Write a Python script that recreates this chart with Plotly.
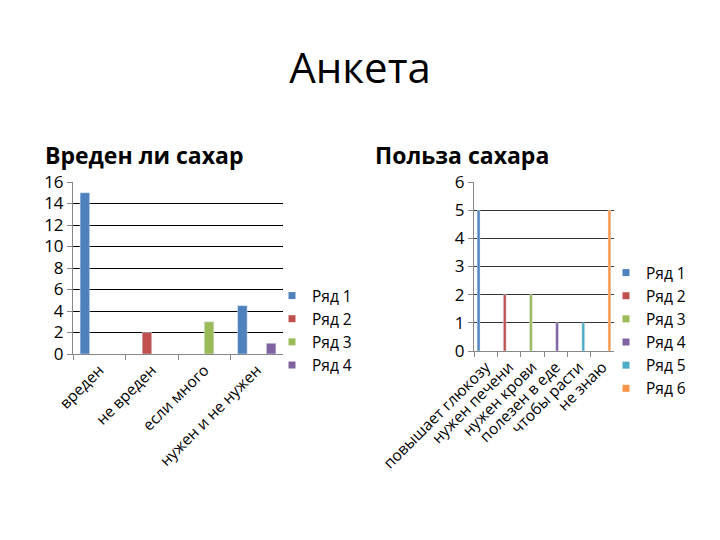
import plotly.graph_objects as go

title_text = "Анкета"
left_title = "Вреден ли сахар"
right_title = "Польза сахара"

left_cats = ["вреден", "не вреден", "если много", "нужен и не нужен"]
left_series = {
    "Ряд 1": [15, None, None, 4.5],
    "Ряд 2": [None, 2, None, None],
    "Ряд 3": [None, None, 3, None],
    "Ряд 4": [None, None, None, 1],
}

right_cats = ["повышает глюкозу", "нужен печени", "нужен крови", "полезен в еде", "чтобы расти", "не знаю"]
right_series = {
    "Ряд 1": [5, None, None, None, None, None],
    "Ряд 2": [None, 2, None, None, None, None],
    "Ряд 3": [None, None, 2, None, None, None],
    "Ряд 4": [None, None, None, 1, None, None],
    "Ряд 5": [None, None, None, None, 1, None],
    "Ряд 6": [None, None, None, None, None, 5],
}

colors = ["#4F81BD", "#C0504D", "#9BBB59", "#8064A2", "#4BACC6", "#F79646"]
FONT = "Open Sans"

fig = go.Figure()

for i, (name, vals) in enumerate(left_series.items()):
    fig.add_trace(go.Bar(x=left_cats, y=vals, name=name, marker_color=colors[i],
                         xaxis="x", yaxis="y", showlegend=False, offsetgroup=str(i)))
    fig.add_trace(go.Scatter(x=[None], y=[None], mode="markers", name=name,
                             marker=dict(symbol="square", size=7, color=colors[i]),
                             xaxis="x", yaxis="y", legend="legend"))

for i, (name, vals) in enumerate(right_series.items()):
    fig.add_trace(go.Bar(x=right_cats, y=vals, name=name, marker_color=colors[i],
                         xaxis="x2", yaxis="y2", showlegend=False, offsetgroup=str(i)))
    fig.add_trace(go.Scatter(x=[None], y=[None], mode="markers", name=name,
                             marker=dict(symbol="square", size=7, color=colors[i]),
                             xaxis="x2", yaxis="y2", legend="legend2"))

W, H = 720, 540
def px(x): return x / W
def py(y): return 1 - y / H

xaxis_common = dict(showline=True, linecolor="#888888", linewidth=1, automargin=False,
                    type="category", tickangle=-45, ticks="outside", tickson="boundaries",
                    ticklen=5, tickcolor="#888888", showgrid=False,
                    tickfont=dict(family=FONT, size=15.5, color="black"))
yaxis_common = dict(showline=True, linecolor="#888888", linewidth=1, automargin=False,
                    ticks="outside", ticklen=5, tickcolor="#888888", zeroline=False,
                    showgrid=True, gridwidth=1,
                    tickfont=dict(family=FONT, size=17, color="black"))

fig.update_layout(
    width=W, height=H,
    margin=dict(l=0, r=0, t=0, b=0, autoexpand=False),
    paper_bgcolor="white", plot_bgcolor="white",
    barmode="group", bargap=0.27, bargroupgap=0,
    font=dict(family=FONT, color="black"),
    title=dict(text=title_text, x=0.5, xanchor="center", y=py(68), yanchor="middle",
               font=dict(family=FONT, size=42, color="black")),
    xaxis=dict(domain=[px(73), px(283)], anchor="y", **xaxis_common),
    yaxis=dict(domain=[py(354), py(182)], anchor="x", range=[0, 16], dtick=2,
               gridcolor="black", **yaxis_common),
    xaxis2=dict(domain=[px(474), px(614)], anchor="y2", **xaxis_common),
    yaxis2=dict(domain=[py(351), py(182)], anchor="x2", range=[0, 6], dtick=1,
                gridcolor="#333333", **yaxis_common),
    legend=dict(x=px(272), y=py(279), xanchor="left", yanchor="top",
                font=dict(family=FONT, size=15.5, color="black"),
                bgcolor="rgba(0,0,0,0)", itemwidth=30, tracegroupgap=0),
    legend2=dict(x=px(606), y=py(256), xanchor="left", yanchor="top",
                 font=dict(family=FONT, size=15.5, color="black"),
                 bgcolor="rgba(0,0,0,0)", itemwidth=30, tracegroupgap=0),
    annotations=[
        dict(text=f"<b>{left_title}</b>", x=px(43), y=py(155), xref="paper", yref="paper",
             xanchor="left", yanchor="middle", showarrow=False,
             font=dict(family=FONT, size=23, color="black")),
        dict(text=f"<b>{right_title}</b>", x=px(373), y=py(155), xref="paper", yref="paper",
             xanchor="left", yanchor="middle", showarrow=False,
             font=dict(family=FONT, size=23, color="black")),
    ],
)

fig.write_html("out.html")
